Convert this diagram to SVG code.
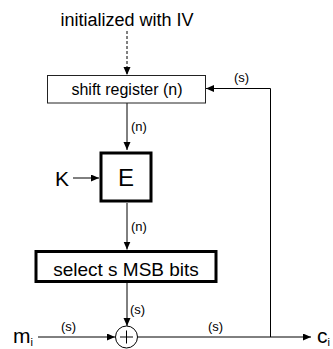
<svg xmlns="http://www.w3.org/2000/svg" width="333" height="349" viewBox="0 0 333 349">
<defs>
<marker id="ah" markerWidth="8" markerHeight="8" refX="8" refY="3.5" orient="auto" markerUnits="userSpaceOnUse">
<path d="M0,0 L8,3.5 L0,7 z" fill="#000"/>
</marker>
<style>
text{font-family:"Liberation Sans",Arial,sans-serif;fill:#000}
.lbl{font-size:13px}
.ln{stroke:#000;stroke-width:1;fill:none}
.thick{fill:#fff;stroke:#000;stroke-width:3}
.thin{fill:#fff;stroke:#222;stroke-width:1}
</style>
</defs>
<g id="connectors">
<line class="ln" x1="127" y1="31" x2="127" y2="75" stroke-dasharray="3,2" marker-end="url(#ah)"/>
<line class="ln" x1="127" y1="103" x2="127" y2="150" marker-end="url(#ah)"/>
<line class="ln" x1="73" y1="178" x2="99" y2="178" marker-end="url(#ah)"/>
<line class="ln" x1="127" y1="203" x2="127" y2="249.5" marker-end="url(#ah)"/>
<line class="ln" x1="127" y1="283" x2="127" y2="326" marker-end="url(#ah)"/>
<line class="ln" x1="38" y1="337" x2="115" y2="337" marker-end="url(#ah)"/>
<line class="ln" x1="137.5" y1="337" x2="311" y2="337" marker-end="url(#ah)"/>
<polyline class="ln" points="270.5,337 270.5,88.5 206,88.5" marker-end="url(#ah)"/>
<text class="lbl" x="131" y="131">(n)</text>
<text class="lbl" x="131" y="231">(n)</text>
<text class="lbl" x="130" y="314">(s)</text>
<text class="lbl" x="61" y="331">(s)</text>
<text class="lbl" x="208" y="331">(s)</text>
<text class="lbl" x="234" y="82">(s)</text>
</g>
<g id="iv">
<text x="127" y="26" font-size="18" text-anchor="middle">initialized with IV</text>
</g>
<g id="shiftreg">
<rect class="thin" x="47.5" y="75.5" width="158" height="27.5"/>
<text x="127" y="95" font-size="16" text-anchor="middle">shift register (n)</text>
</g>
<g id="K">
<text x="55" y="186" font-size="21">K</text>
</g>
<g id="E">
<rect class="thick" x="101" y="153" width="50" height="48"/>
<text x="126" y="186" font-size="24" text-anchor="middle">E</text>
</g>
<g id="select">
<rect class="thick" x="36" y="251.5" width="180" height="30"/>
<text x="126" y="276" font-size="19" text-anchor="middle">select s MSB bits</text>
</g>
<g id="xor">
<circle cx="126.5" cy="337" r="11" fill="#fff" stroke="#000" stroke-width="1"/>
<line class="ln" x1="120" y1="337" x2="133" y2="337"/>
<line class="ln" x1="126.5" y1="330.5" x2="126.5" y2="343.5"/>
</g>
<g id="mi">
<text x="13" y="343" font-size="21">m<tspan font-size="11" dy="3">i</tspan></text>
</g>
<g id="ci">
<text x="317" y="343" font-size="21">c<tspan font-size="11" dy="3">i</tspan></text>
</g>
</svg>
